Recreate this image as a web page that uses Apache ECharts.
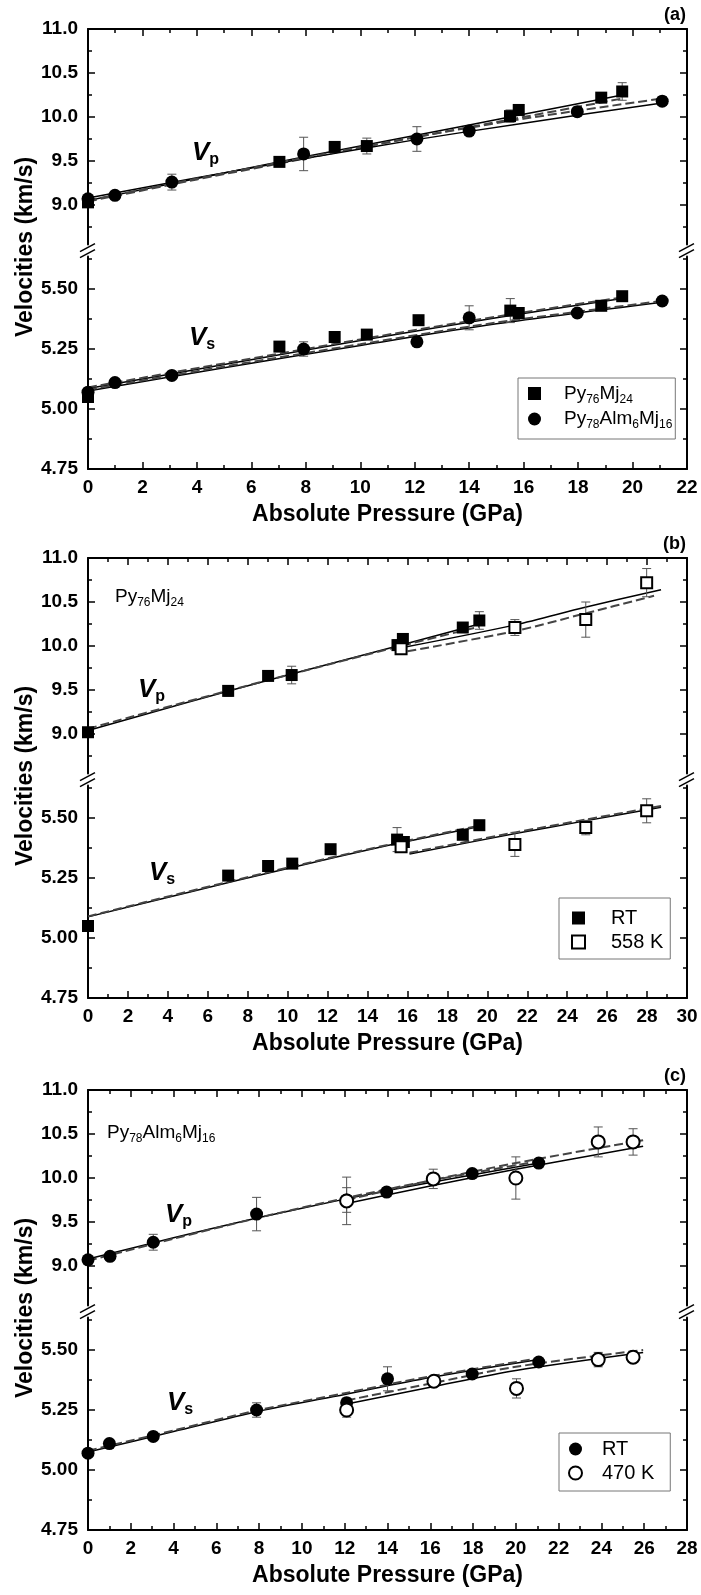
<!DOCTYPE html>
<html>
<head>
<meta charset="UTF-8">
<title>Velocities vs absolute pressure</title>
<script src="https://cdn.jsdelivr.net/npm/echarts@6/dist/echarts.min.js"></script>
<style>
body { margin: 0; padding: 0; background: #fff; }
#main { width: 701px; height: 1595px; }
</style>
</head>
<body>
<div id="main"></div>
<script>
// ---- measured points: [pressure (GPa), velocity (km/s), error] ----
// panel (a)
var a76Vp = [[0,9.03,0],[7.03,9.49,0.05],[9.06,9.66,0],[10.24,9.67,0.09],[15.5,10.01,0.07],[15.82,10.08,0.04],[18.85,10.22,0.03],[19.62,10.29,0.1]];
var a78Vp = [[0,9.07,0],[0.99,9.11,0.04],[3.08,9.26,0.09],[7.92,9.58,0.19],[12.08,9.75,0.14],[14.0,9.84,0.05],[17.97,10.06,0.03],[21.09,10.18,0.05]];
var a76Vs = [[0,5.05,0],[7.03,5.26,0],[9.06,5.30,0],[10.24,5.31,0],[12.14,5.37,0],[15.51,5.41,0.05],[15.82,5.40,0],[18.85,5.43,0],[19.62,5.47,0]];
var a78Vs = [[0,5.07,0],[0.99,5.11,0],[3.08,5.14,0],[7.92,5.25,0.03],[12.08,5.28,0],[14.0,5.38,0.05],[17.97,5.40,0],[21.09,5.45,0]];
// panel (b)
var bRTVp = [[0,9.02,0],[7.02,9.49,0.06],[9.02,9.66,0],[10.2,9.67,0.1],[15.5,10.01,0.06],[15.77,10.08,0.03],[18.77,10.21,0.03],[19.6,10.29,0.1]];
var b558Vp = [[15.68,9.97,0.06],[21.38,10.21,0.09],[24.93,10.30,0.2],[27.98,10.72,0.16]];
var bRTVs = [[0,5.05,0],[7.02,5.26,0],[9.02,5.30,0],[10.23,5.31,0],[12.15,5.37,0],[15.48,5.41,0.05],[15.82,5.40,0],[18.77,5.43,0],[19.6,5.47,0]];
var b558Vs = [[15.68,5.38,0.02],[21.38,5.39,0.05],[24.93,5.46,0.03],[27.98,5.53,0.05]];
// panel (c)
var cRTVp = [[0,9.07,0],[1.03,9.11,0.04],[3.05,9.27,0.09],[7.88,9.59,0.19],[12.09,9.75,0.14],[13.96,9.84,0.05],[17.96,10.05,0.03],[21.07,10.17,0.04]];
var c470Vp = [[12.09,9.74,0.27],[16.14,9.99,0.11],[20.0,10.0,0.24],[23.85,10.41,0.17],[25.48,10.41,0.15]];
var cRTVs = [[0,5.07,0],[1.0,5.11,0],[3.05,5.14,0],[7.88,5.25,0.03],[12.09,5.28,0.02],[14.0,5.38,0.05],[17.96,5.40,0],[21.07,5.45,0]];
var c470Vs = [[12.09,5.25,0.03],[16.17,5.37,0],[20.03,5.34,0.04],[23.85,5.46,0.03],[25.48,5.47,0.02]];

// ---- fitted curves: [pressure, velocity] ----
var a76VpFit  = [[0,9.05],[4,9.30],[8,9.55],[12,9.79],[16,10.03],[19.62,10.25]];
var a76VpFitD = [[0,9.04],[4,9.29],[8,9.53],[12,9.77],[16,10.00],[19.62,10.21]];
var a78VpFit  = [[0,9.08],[4,9.31],[8,9.53],[12,9.74],[16,9.93],[21.09,10.16]];
var a78VpFitD = [[0,9.05],[4,9.30],[8,9.54],[12,9.77],[16,9.98],[21.09,10.21]];
var a76VsFit  = [[0,5.085],[5,5.185],[10,5.285],[15,5.38],[19.62,5.46]];
var a76VsFitD = [[0,5.09],[5,5.19],[10,5.29],[15,5.385],[19.62,5.465]];
var a78VsFit  = [[0,5.075],[5,5.172],[10,5.265],[15,5.355],[21.09,5.445]];
var a78VsFitD = [[0,5.08],[5,5.177],[10,5.27],[15,5.36],[21.09,5.45]];

var bRTVpFit   = [[0,9.04],[5,9.36],[10,9.67],[15.5,10.0],[19.6,10.25]];
var bRTVpFitD  = [[0,9.06],[5,9.37],[10,9.67],[15.5,9.99],[19.6,10.22]];
var b558VpFit  = [[15.7,9.98],[21.4,10.24],[24.9,10.44],[28.7,10.64]];
var b558VpFitD = [[16.0,9.94],[21.4,10.17],[24.9,10.37],[28.35,10.57]];
var bRTVsFit   = [[0,5.088],[5,5.19],[10,5.29],[15,5.385],[19.6,5.465]];
var bRTVsFitD  = [[0,5.09],[5,5.193],[10,5.293],[15,5.388],[19.6,5.468]];
var b558VsFit  = [[16.1,5.35],[21.4,5.435],[24.9,5.488],[28.7,5.545]];
var b558VsFitD = [[16.1,5.355],[21.4,5.44],[24.9,5.493],[28.7,5.55]];

var cRTVpFit   = [[0,9.08],[4,9.32],[8,9.55],[12,9.76],[16,9.95],[21.07,10.17]];
var cRTVpFitD  = [[0,9.06],[4,9.31],[8,9.55],[12,9.77],[16,9.97],[21.07,10.19]];
var c470VpFit  = [[12.09,9.71],[16,9.91],[20,10.1],[25.95,10.36]];
var c470VpFitD = [[12.09,9.75],[16,9.97],[20,10.17],[25.95,10.43]];
var cRTVsFit   = [[0,5.075],[4,5.16],[8,5.245],[12,5.315],[16,5.385],[21.07,5.46]];
var cRTVsFitD  = [[0,5.08],[4,5.165],[8,5.25],[12,5.32],[16,5.39],[21.07,5.465]];
var c470VsFit  = [[12.09,5.275],[16,5.345],[20,5.415],[25.95,5.49]];
var c470VsFitD = [[12.09,5.29],[16,5.36],[20,5.43],[25.95,5.5]];

// ---- axis ticks ----
var upMajor = [9.0, 9.5, 10.0, 10.5, 11.0];
var upMinor = [8.75, 9.25, 9.75, 10.25, 10.75];
var lowMajor = [4.75, 5.0, 5.25, 5.5];
var lowMinor = [4.875, 5.125, 5.375, 5.625];
var upRange = [8.55, 11.0];
var lowRange = [4.75, 5.635];

var FONT = '"Liberation Sans", Arial, sans-serif';
var L = 88, W = 599, UH = 215.6, GAP = 12, LH = 212.4;

var panels = [
  { top: 29, xmax: 22, letter: '(a)',
    groups: [
      { name: 'a76', vp: a76Vp, vs: a76Vs, sym: 'rect', open: false },
      { name: 'a78', vp: a78Vp, vs: a78Vs, sym: 'circle', open: false }
    ],
    fits: [[a76VpFit, a76VsFit, false], [a76VpFitD, a76VsFitD, true], [a78VpFit, a78VsFit, false], [a78VpFitD, a78VsFitD, true]],
    vp: [192, 124], vs: [189, 309], label: null,
    leg: { left: 518, top: 378, padding: [6, 3, 8, 10], text: 18, size: 19 } },
  { top: 558, xmax: 30, letter: '(b)',
    groups: [
      { name: 'bRT', vp: bRTVp, vs: bRTVs, sym: 'rect', open: false },
      { name: 'b558', vp: b558Vp, vs: b558Vs, sym: 'rect', open: true }
    ],
    fits: [[bRTVpFit, bRTVsFit, false], [bRTVpFitD, bRTVsFitD, true], [b558VpFit, b558VsFit, false], [b558VpFitD, b558VsFitD, true]],
    vp: [138, 132], vs: [149, 315], label: [115, 39, '{m|Py}{s|76}{m|Mj}{s|24}'],
    leg: { left: 559, top: 898, padding: [10, 7, 7, 12], text: 21, size: 20 } },
  { top: 1090, xmax: 28, letter: '(c)',
    groups: [
      { name: 'cRT', vp: cRTVp, vs: cRTVs, sym: 'circle', open: false },
      { name: 'c470', vp: c470Vp, vs: c470Vs, sym: 'circle', open: true }
    ],
    fits: [[cRTVpFit, cRTVsFit, false], [cRTVpFitD, cRTVsFitD, true], [c470VpFit, c470VsFit, false], [c470VpFitD, c470VsFitD, true]],
    vp: [165, 125], vs: [167, 313], label: [107, 43, '{m|Py}{s|78}{m|Alm}{s|6}{m|Mj}{s|16}'],
    leg: { left: 559, top: 1433, padding: [6, 16, 8, 9], text: 15, size: 20 } }
];

var legendText = {
  a76: '{m|Py}{s|76}{m|Mj}{s|24}',
  a78: '{m|Py}{s|78}{m|Alm}{s|6}{m|Mj}{s|16}',
  bRT: '{m|RT}', b558: '{m|558 K}',
  cRT: '{m|RT}', c470: '{m|470 K}'
};

function subRich(size) {
  return {
    m: { fontSize: size, lineHeight: 24, fontFamily: FONT, color: '#000' },
    s: { fontSize: 12, lineHeight: 10, verticalAlign: 'bottom', fontFamily: FONT, color: '#000' }
  };
}

var tickLine = { color: '#000', width: 1.5 };
var axLine = { show: true, onZero: false, lineStyle: { color: '#000', width: 2 } };
var labelStyle = { color: '#000', fontSize: 19, fontWeight: 'bold', fontFamily: FONT };

function makeX(g, xmax, pos, labels) {
  return {
    type: 'value', gridIndex: g, position: pos, min: 0, max: xmax, interval: 2,
    axisLine: axLine,
    axisTick: { show: true, inside: true, length: 7, lineStyle: tickLine },
    minorTick: { show: true, splitNumber: 2, length: 4, lineStyle: tickLine },
    axisLabel: Object.assign({ show: labels, margin: 9 }, labelStyle),
    splitLine: { show: false }, minorSplitLine: { show: false }
  };
}

function makeY(g, range, major, minor, digits) {
  function ax(pos, ticks, len, line, labels) {
    return {
      type: 'value', gridIndex: g, position: pos, min: range[0], max: range[1],
      axisLine: line ? axLine : { show: false },
      axisTick: { show: true, inside: true, length: len, customValues: ticks, lineStyle: tickLine },
      axisLabel: labels ? Object.assign({ show: true, margin: 10, customValues: ticks,
        formatter: function (v) { return Number(v).toFixed(digits); } }, labelStyle) : { show: false },
      splitLine: { show: false }
    };
  }
  return [ax('left', major, 7, true, true), ax('left', minor, 4, false, false),
          ax('right', major, 7, true, false), ax('right', minor, 4, false, false)];
}

function fitLine(data, g, dashed) {
  return {
    type: 'line', name: 'fit', xAxisIndex: g, yAxisIndex: 4 * g, data: data,
    symbol: 'none', smooth: 0.3, silent: true, z: 2,
    lineStyle: dashed ? { color: '#444', width: 2, type: [9, 4], opacity: 1 } : { color: '#000', width: 1.5, opacity: 1 }
  };
}

function errBars(data, g) {
  return {
    type: 'custom', name: 'err', xAxisIndex: g, yAxisIndex: 4 * g, z: 3, silent: true,
    data: data.filter(function (d) { return d[2] > 0; }),
    encode: { x: 0, y: 1 },
    renderItem: function (params, api) {
      var x = api.value(0), v = api.value(1), e = api.value(2);
      var hi = api.coord([x, v + e]), lo = api.coord([x, v - e]);
      var st = { stroke: '#555', lineWidth: 1 };
      var w = 4.5;
      return { type: 'group', children: [
        { type: 'line', shape: { x1: hi[0], y1: hi[1], x2: lo[0], y2: lo[1] }, style: st },
        { type: 'line', shape: { x1: hi[0] - w, y1: hi[1], x2: hi[0] + w, y2: hi[1] }, style: st },
        { type: 'line', shape: { x1: lo[0] - w, y1: lo[1], x2: lo[0] + w, y2: lo[1] }, style: st }
      ] };
    }
  };
}

function points(gr, data, g) {
  var size = gr.sym === 'rect' ? (gr.open ? 11 : 12) : 13;
  return {
    type: 'scatter', name: gr.name, xAxisIndex: g, yAxisIndex: 4 * g, z: 4, silent: true,
    data: data.map(function (d) { return [d[0], d[1]]; }),
    symbol: gr.sym, symbolSize: size,
    itemStyle: gr.open ? { color: '#fff', borderColor: '#000', borderWidth: 2, opacity: 1 }
                       : { color: '#000', borderColor: '#000', borderWidth: 0, opacity: 1 },
    emphasis: { disabled: true }
  };
}

var grid = [], xAxis = [], yAxis = [], series = [], graphic = [], legend = [];

panels.forEach(function (P, p) {
  var gU = 2 * p, gL = 2 * p + 1;
  var lowTop = P.top + UH + GAP;
  grid.push({ left: L, width: W, top: P.top, height: UH, outerBoundsMode: 'none' });
  grid.push({ left: L, width: W, top: lowTop, height: LH, outerBoundsMode: 'none' });
  xAxis.push(makeX(gU, P.xmax, 'top', false));
  xAxis.push(makeX(gL, P.xmax, 'bottom', true));
  yAxis.push.apply(yAxis, makeY(gU, upRange, upMajor, upMinor, 1));
  yAxis.push.apply(yAxis, makeY(gL, lowRange, lowMajor, lowMinor, 2));

  P.fits.forEach(function (f) {
    series.push(fitLine(f[0], gU, f[2]));
    series.push(fitLine(f[1], gL, f[2]));
  });
  P.groups.forEach(function (gr) {
    series.push(errBars(gr.vp, gU));
    series.push(points(gr, gr.vp, gU));
    series.push(errBars(gr.vs, gL));
    series.push(points(gr, gr.vs, gL));
  });

  legend.push({
    data: P.groups.map(function (gr) { return gr.name; }),
    orient: 'vertical', left: P.leg.left, top: P.leg.top, padding: P.leg.padding,
    itemWidth: 13, itemHeight: 13, itemGap: 4, selectedMode: false,
    borderColor: '#777', borderWidth: 1, borderRadius: 0, backgroundColor: '#fff',
    itemStyle: { opacity: 1 },
    formatter: function (n) { return legendText[n]; },
    textStyle: { fontFamily: FONT, fontSize: P.leg.size, color: '#000', padding: [0, 0, 0, P.leg.text], rich: subRich(P.leg.size) }
  });

  // panel letter
  graphic.push({ type: 'text', x: 686, y: P.top - 14, z: 10,
    style: { text: P.letter, font: 'bold 18px ' + FONT, fill: '#000', align: 'right', verticalAlign: 'middle', textAlign: 'right', textVerticalAlign: 'middle' } });
  // axis titles
  graphic.push({ type: 'text', x: L + W / 2, y: P.top + 440 + 46, z: 10,
    style: { text: 'Absolute Pressure (GPa)', font: 'bold 23px ' + FONT, fill: '#000', align: 'center', verticalAlign: 'middle', textAlign: 'center', textVerticalAlign: 'middle' } });
  graphic.push({ type: 'text', x: 26, y: P.top + 218, rotation: Math.PI / 2, z: 10,
    style: { text: 'Velocities (km/s)', font: 'bold 23px ' + FONT, fill: '#000', align: 'center', verticalAlign: 'middle', textAlign: 'center', textVerticalAlign: 'middle' } });
  // Vp / Vs
  var vRich = {
    v: { fontSize: 26, fontStyle: 'italic', fontWeight: 'bold', fontFamily: FONT, lineHeight: 30, color: '#000' },
    s: { fontSize: 16, fontWeight: 'bold', fontFamily: FONT, lineHeight: 16, verticalAlign: 'bottom', color: '#000' }
  };
  graphic.push({ type: 'text', x: P.vp[0], y: P.top + P.vp[1], z: 10,
    style: { text: '{v|V}{s|p}', rich: vRich, verticalAlign: 'middle', textVerticalAlign: 'middle' } });
  graphic.push({ type: 'text', x: P.vs[0], y: P.top + P.vs[1], z: 10,
    style: { text: '{v|V}{s|s}', rich: vRich, verticalAlign: 'middle', textVerticalAlign: 'middle' } });
  if (P.label) {
    graphic.push({ type: 'text', x: P.label[0], y: P.top + P.label[1], z: 10,
      style: { text: P.label[2], rich: subRich(19), verticalAlign: 'middle', textVerticalAlign: 'middle' } });
  }
  // axis break marks
  var yc = P.top + UH + GAP / 2;
  [L, L + W].forEach(function (x) {
    graphic.push({ type: 'line', z: 10, shape: { x1: x - 8, y1: yc + 1, x2: x + 7, y2: yc - 7 }, style: { stroke: '#000', lineWidth: 1.5 } });
    graphic.push({ type: 'line', z: 10, shape: { x1: x - 8, y1: yc + 7, x2: x + 7, y2: yc - 1 }, style: { stroke: '#000', lineWidth: 1.5 } });
  });
});

var myChart = echarts.init(document.getElementById('main'));
myChart.setOption({
  animation: false,
  backgroundColor: '#fff',
  grid: grid, xAxis: xAxis, yAxis: yAxis,
  legend: legend, series: series, graphic: graphic
});
</script>
</body>
</html>
